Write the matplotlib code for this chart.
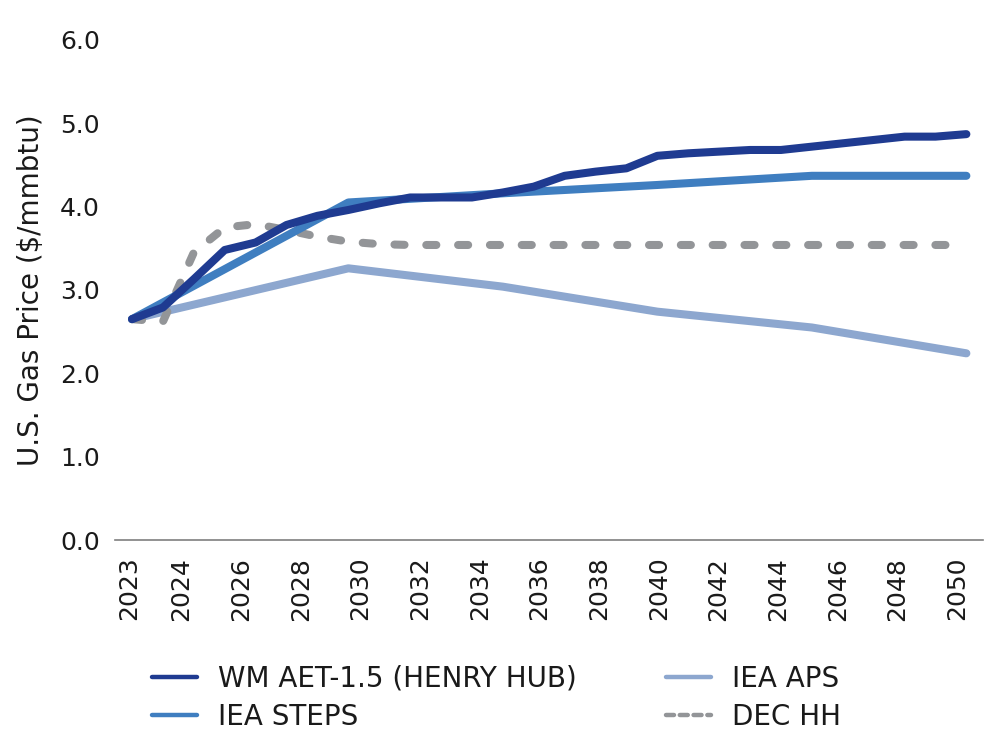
import numpy as np
import matplotlib
matplotlib.use('Agg')
import matplotlib.pyplot as plt
from matplotlib.lines import Line2D

plt.rcParams['font.family'] = ['DejaVu Sans']

years = np.arange(2023, 2051)

# WM AET-1.5 (Henry Hub), yearly
wm_hh = [2.65, 2.79, 3.13, 3.48, 3.57, 3.78, 3.89, 3.96, 4.04, 4.11,
         4.11, 4.11, 4.17, 4.24, 4.37, 4.42, 4.46, 4.61, 4.64, 4.66,
         4.68, 4.68, 4.72, 4.76, 4.80, 4.84, 4.84, 4.87]

# DEC HH, yearly
dec_hh = [2.65, 2.62, 3.45, 3.75, 3.79, 3.72, 3.64, 3.58, 3.55, 3.54,
          3.54, 3.54, 3.54, 3.54, 3.54, 3.54, 3.54, 3.54, 3.54, 3.54,
          3.54, 3.54, 3.54, 3.54, 3.54, 3.54, 3.54, 3.54]

# IEA scenarios only given at milestone years
iea_years = [2023, 2030, 2035, 2040, 2045, 2050]
iea_steps = [2.65, 4.05, 4.16, 4.26, 4.37, 4.37]
iea_aps = [2.65, 3.26, 3.04, 2.74, 2.55, 2.24]

tick_labels = ['2023', '2024', '2026', '2028', '2030', '2032', '2034', '2036',
               '2038', '2040', '2042', '2044', '2046', '2048', '2050']

c_wm = '#1f3b91'
c_steps = '#3f7ec0'
c_aps = '#8da7cf'
c_dec = '#939598'
c_text = '#1a1a1a'

fig = plt.figure(figsize=(9.95, 7.36), dpi=100)
ax = fig.add_axes([0.1156, 0.2663, 0.8724, 0.6794])

lw = 5.8
ax.plot(iea_years, iea_aps, color=c_aps, lw=lw, solid_capstyle='round',
        solid_joinstyle='round', zorder=2)
ax.plot(years, dec_hh, color=c_dec, lw=lw, dashes=(1.25, 2.7),
        dash_capstyle='round', dash_joinstyle='round', zorder=3)
ax.plot(iea_years, iea_steps, color=c_steps, lw=lw, solid_capstyle='round',
        solid_joinstyle='round', zorder=4)
ax.plot(years, wm_hh, color=c_wm, lw=lw, solid_capstyle='round',
        solid_joinstyle='round', zorder=5)

ax.set_xlim(2022.45, 2050.54)
ax.set_ylim(0, 6)

# label positions as laid out in the source chart
tick_pos = [2022.9] + list(np.linspace(2024.6, 2049.7, 14))
ax.set_xticks(tick_pos)
ax.set_xticklabels(tick_labels, rotation=90, fontsize=18, color=c_text)
ax.set_yticks(np.arange(0, 7))
ax.set_yticklabels(['%.1f' % v for v in np.arange(0, 7)], fontsize=18,
                   color=c_text)
ax.tick_params(axis='both', length=0)
ax.tick_params(axis='y', pad=11)
ax.tick_params(axis='x', pad=12)

for s in ['top', 'right', 'left']:
    ax.spines[s].set_visible(False)
ax.spines['bottom'].set_color('#7f7f7f')
ax.spines['bottom'].set_linewidth(1.2)

ax.set_ylabel('U.S. Gas Price ($/mmbtu)', fontsize=20, labelpad=11,
              color=c_text)

handles = [
    Line2D([], [], color=c_wm, lw=3.2, solid_capstyle='round'),
    Line2D([], [], color=c_steps, lw=3.2, solid_capstyle='round'),
    Line2D([], [], color=c_aps, lw=3.2, solid_capstyle='round'),
    Line2D([], [], color=c_dec, lw=3.2, dashes=(1.8, 1.3), dash_capstyle='round'),
]
labels = ['WM AET-1.5 (HENRY HUB)', 'IEA STEPS', 'IEA APS', 'DEC HH']
leg = fig.legend(handles, labels, loc='upper left', bbox_to_anchor=(0.153, 0.097),
                 ncol=2, frameon=False, fontsize=20, handlelength=1.62,
                 handletextpad=0.75, columnspacing=3.2, labelspacing=0.38,
                 borderpad=0, borderaxespad=0)
for t in leg.get_texts():
    t.set_color(c_text)

fig.savefig('out.png', dpi=100)
